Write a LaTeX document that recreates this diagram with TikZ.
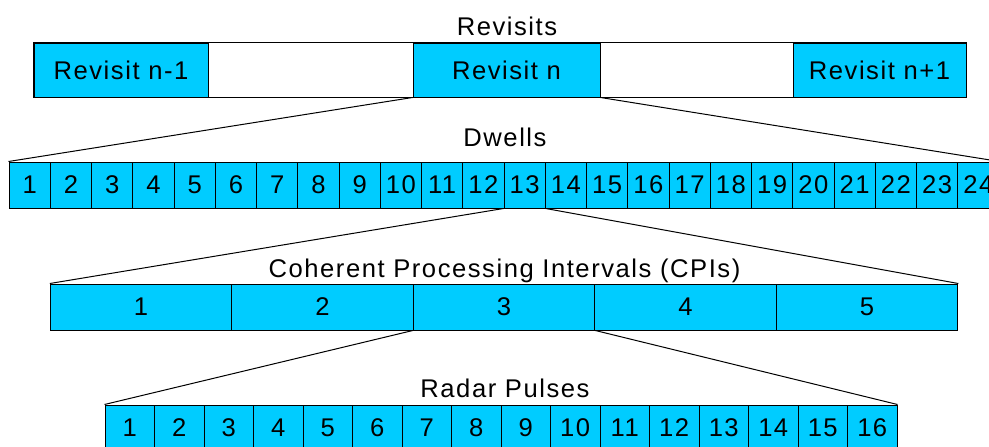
\documentclass[tikz,border=0pt]{standalone}
\usepackage{fontspec}
\setmainfont{Liberation Sans}[LetterSpace=6]
\definecolor{cyanfill}{RGB}{0,204,255}
\newcommand{\fs}{\fontsize{25.6}{30}\selectfont}
\begin{document}
\begin{tikzpicture}[x=1pt,y=-1pt,line width=1pt,
  cell/.style={draw=black,fill=cyanfill,inner sep=0pt,minimum height=46pt,font=\fs,text=black},
  rbox/.style={draw=black,fill=cyanfill,inner sep=0pt,minimum height=54pt,font=\fs,text=black},
  lbl/.style={inner sep=0pt,font=\fs,text=black,anchor=base},
  conn/.style={draw=black,line width=1pt}]
\clip (0,0) rectangle (989,447);
% Revisits
\node[rbox,minimum width=174pt] (rn1) at (121,70) {Revisit n-1};
\node[rbox,minimum width=187pt] (rn) at (506.5,70) {Revisit n};
\node[rbox,minimum width=173pt] (rnp) at (879.5,70) {Revisit n+1};
\draw (rn1.north west) rectangle (rnp.south east);
\node[lbl] (tRev) at (507,35) {Revisits};
% Dwells
\node[lbl] (tDw) at (505,146.7) {Dwells};
\foreach \i in {1,...,24}
  \node[cell,minimum width=41.25pt] (d\i) at ({9+(\i-0.5)*41.25},185) {\i};
% CPIs
\node[lbl] (tCPI) at (504.5,277.3) {Coherent Processing Intervals (CPIs)};
\foreach \i in {1,...,5}
  \node[cell,minimum width=181.5pt] (c\i) at ({50.3+(\i-0.5)*181.5},307) {\i};
% Pulses
\node[lbl] (tP) at (505,397) {Radar Pulses};
\foreach \i in {1,...,16}
  \node[cell,minimum width=49.5pt] (p\i) at ({105+(\i-0.5)*49.5},428) {\i};
% connectors
\draw[conn] (rn.south west) -- (d1.north west);
\draw[conn] (rn.south east) -- (d24.north east);
\draw[conn] (d13.south west) -- (c1.north west);
\draw[conn] (d13.south east) -- (c5.north east);
\draw[conn] (c3.south west) -- (p1.north west);
\draw[conn] (c3.south east) -- (p16.north east);
\end{tikzpicture}
\end{document}
